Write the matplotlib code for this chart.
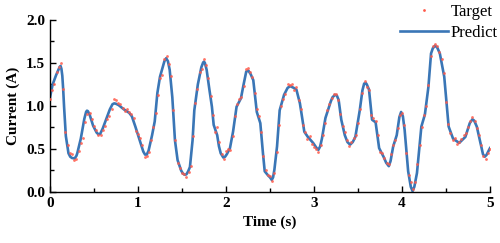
import matplotlib
matplotlib.use("Agg")
import matplotlib.pyplot as plt
from matplotlib.ticker import MultipleLocator
from matplotlib.lines import Line2D

# Predict curve (time in s, current in A)
pred_t = [0.00, 0.03, 0.07, 0.10, 0.11, 0.12, 0.13, 0.14, 0.15, 0.16, 0.18, 0.21, 0.23, 0.25, 0.28,
          0.30, 0.31, 0.35, 0.39, 0.41, 0.42, 0.43, 0.45, 0.49, 0.53, 0.55, 0.57, 0.60, 0.64, 0.68,
          0.71, 0.73, 0.75, 0.78, 0.84, 0.90, 0.93, 0.97, 1.02, 1.06, 1.08, 1.10, 1.12, 1.16, 1.19,
          1.22, 1.25, 1.28, 1.30, 1.32, 1.34, 1.36, 1.39, 1.42, 1.45, 1.49, 1.51, 1.53, 1.55, 1.57,
          1.59, 1.62, 1.64, 1.68, 1.72, 1.74, 1.75, 1.76, 1.78, 1.81, 1.84, 1.86, 1.88, 1.90, 1.92,
          1.94, 1.97, 1.99, 2.01, 2.045, 2.08, 2.12, 2.17, 2.20, 2.23, 2.255, 2.28, 2.31, 2.35, 2.39,
          2.42, 2.44, 2.48, 2.50, 2.52, 2.535, 2.55, 2.58, 2.61, 2.66, 2.70, 2.73, 2.77, 2.80, 2.84,
          2.89, 2.93, 2.99, 3.03, 3.05, 3.07, 3.09, 3.13, 3.19, 3.21, 3.24, 3.26, 3.28, 3.31, 3.35,
          3.38, 3.41, 3.44, 3.47, 3.52, 3.55, 3.57, 3.59, 3.60, 3.625, 3.66, 3.70, 3.74, 3.79, 3.82,
          3.85, 3.87, 3.90, 3.94, 3.97, 3.99, 4.01, 4.03, 4.07, 4.10, 4.12, 4.14, 4.17, 4.22, 4.26,
          4.30, 4.33, 4.35, 4.375, 4.40, 4.43, 4.48, 4.53, 4.58, 4.65, 4.72, 4.77, 4.80, 4.82, 4.85,
          4.90, 4.92, 4.94, 4.96, 5.00]
pred_v = [1.10, 1.25, 1.36, 1.43, 1.455, 1.465, 1.43, 1.35, 1.19, 0.99, 0.65, 0.45, 0.41, 0.395, 0.39,
          0.42, 0.45, 0.62, 0.85, 0.93, 0.945, 0.94, 0.90, 0.77, 0.69, 0.67, 0.675, 0.74, 0.85, 0.96,
          1.02, 1.03, 1.025, 1.01, 0.96, 0.92, 0.88, 0.76, 0.60, 0.47, 0.435, 0.435, 0.48, 0.66, 0.82,
          1.15, 1.34, 1.45, 1.52, 1.555, 1.52, 1.42, 1.10, 0.60, 0.37, 0.25, 0.215, 0.20, 0.205, 0.24,
          0.29, 0.60, 0.95, 1.25, 1.45, 1.505, 1.515, 1.50, 1.42, 1.20, 0.99, 0.78, 0.72, 0.66, 0.53,
          0.45, 0.40, 0.41, 0.44, 0.51, 0.70, 0.99, 1.09, 1.25, 1.40, 1.41, 1.37, 1.30, 0.93, 0.80,
          0.45, 0.24, 0.19, 0.17, 0.14, 0.17, 0.26, 0.53, 0.95, 1.13, 1.21, 1.23, 1.21, 1.19, 1.03,
          0.70, 0.64, 0.57, 0.51, 0.49, 0.53, 0.62, 0.86, 1.05, 1.10, 1.13, 1.12, 1.07, 0.84, 0.66,
          0.58, 0.55, 0.58, 0.64, 0.95, 1.18, 1.26, 1.265, 1.25, 1.19, 0.84, 0.81, 0.51, 0.41, 0.34,
          0.30, 0.36, 0.53, 0.66, 0.87, 0.93, 0.88, 0.72, 0.24, 0.06, 0.01, 0.06, 0.22, 0.76, 0.90,
          1.22, 1.61, 1.67, 1.70, 1.68, 1.61, 1.34, 0.76, 0.62, 0.57, 0.64, 0.80, 0.845, 0.83, 0.76,
          0.53, 0.44, 0.41, 0.43, 0.51]

# Target samples (every 0.025 s from 0 to 5 s)
target_t = [i * 0.025 for i in range(201)]
target_v = [1.08, 1.19, 1.26, 1.40, 1.45, 1.50, 1.20, 0.70, 0.55, 0.45,
            0.44, 0.37, 0.38, 0.48, 0.57, 0.63, 0.81, 0.91, 0.92, 0.85,
            0.77, 0.72, 0.66, 0.66, 0.72, 0.77, 0.85, 0.88, 0.96, 1.08,
            1.07, 1.04, 1.02, 0.98, 0.94, 0.97, 0.93, 0.91, 0.86, 0.71,
            0.67, 0.63, 0.55, 0.41, 0.42, 0.47, 0.60, 0.75, 0.92, 1.13,
            1.32, 1.36, 1.54, 1.58, 1.49, 1.35, 0.95, 0.60, 0.34, 0.28,
            0.22, 0.21, 0.17, 0.23, 0.30, 0.65, 1.03, 1.20, 1.40, 1.43,
            1.55, 1.48, 1.32, 1.12, 0.90, 0.70, 0.76, 0.58, 0.44, 0.38,
            0.48, 0.50, 0.49, 0.65, 0.88, 1.02, 1.08, 1.10, 1.23, 1.43,
            1.44, 1.39, 1.34, 1.15, 0.97, 0.88, 0.70, 0.42, 0.25, 0.20,
            0.18, 0.13, 0.22, 0.46, 0.78, 1.00, 1.08, 1.14, 1.25, 1.24,
            1.26, 1.19, 1.22, 1.07, 0.96, 0.78, 0.70, 0.62, 0.65, 0.56,
            0.52, 0.50, 0.47, 0.55, 0.66, 0.80, 0.95, 1.02, 1.09, 1.14,
            1.14, 1.07, 0.91, 0.77, 0.70, 0.60, 0.53, 0.58, 0.63, 0.66,
            0.80, 0.96, 1.15, 1.29, 1.22, 1.18, 0.90, 0.86, 0.82, 0.66,
            0.47, 0.45, 0.40, 0.34, 0.33, 0.44, 0.55, 0.60, 0.74, 0.90,
            0.92, 0.78, 0.45, 0.20, 0.12, 0.04, 0.12, 0.33, 0.55, 0.76,
            0.89, 1.00, 1.24, 1.58, 1.70, 1.72, 1.70, 1.63, 1.55, 1.38,
            1.05, 0.79, 0.68, 0.60, 0.63, 0.56, 0.58, 0.61, 0.66, 0.68,
            0.75, 0.82, 0.87, 0.83, 0.74, 0.66, 0.55, 0.42, 0.38, 0.45,
            0.50]

x_ticks = [0, 1, 2, 3, 4, 5]
y_ticks = [0.0, 0.5, 1.0, 1.5, 2.0]

plt.rcParams['font.family'] = ['Liberation Serif', 'DejaVu Serif']

fig = plt.figure(figsize=(5.0, 2.43), dpi=100)
ax = fig.add_axes([0.10, 0.21, 0.88, 0.708])

ax.plot(target_t, target_v, linestyle='none', marker='o', markersize=2.0,
        markeredgewidth=0, color='#ff5a4a', alpha=0.85, zorder=3, label='Target')
ax.plot(pred_t, pred_v, color='#3a76b6', linewidth=1.9, zorder=2, label='Predict')

ax.set_xlim(0, 5)
ax.set_ylim(0, 2.0)
ax.set_xticks(x_ticks)
ax.set_yticks(y_ticks)
ax.set_yticklabels([f"{v:.1f}" for v in y_ticks])
ax.xaxis.set_minor_locator(MultipleLocator(0.5))
ax.yaxis.set_minor_locator(MultipleLocator(0.25))
ax.tick_params(which='both', direction='in', width=1.0, labelsize=11)
ax.tick_params(which='major', length=4)
ax.tick_params(which='minor', length=3)
for lab in ax.get_xticklabels() + ax.get_yticklabels():
    lab.set_fontweight('bold')
for s in ['top', 'right']:
    ax.spines[s].set_visible(False)
for s in ['left', 'bottom']:
    ax.spines[s].set_linewidth(1.0)

ax.set_xlabel('Time (s)', fontsize=11, fontweight='bold', labelpad=4)
ax.set_ylabel('Current (A)', fontsize=11, fontweight='bold', labelpad=4)

handles = [Line2D([], [], linestyle='none', marker='o', markersize=2.0, markeredgewidth=0, color='#ff5a4a'),
           Line2D([], [], color='#3a76b6', linewidth=1.9)]
leg = ax.legend(handles, ['Target', 'Predict'], loc='upper right', bbox_to_anchor=(1.04, 1.15),
                frameon=False, fontsize=12, handlelength=2.9, handletextpad=0.15,
                labelspacing=0.3, borderaxespad=0.2)

fig.savefig('out.png', dpi=100)
